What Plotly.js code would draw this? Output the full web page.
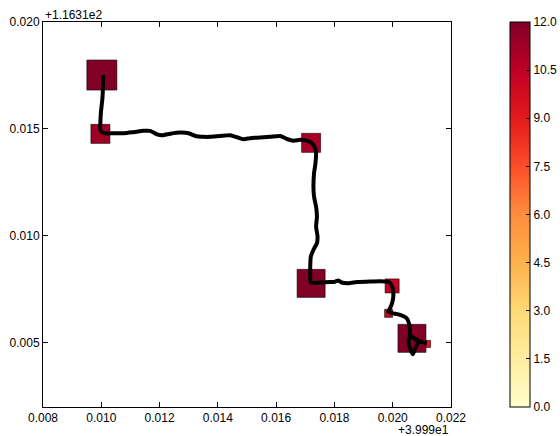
<!DOCTYPE html>
<html>
<head>
<meta charset="utf-8">
<script src="https://cdn.plot.ly/plotly-3.0.1.min.js"></script>
<style>html,body{margin:0;padding:0;background:#fff;}#chart{width:560px;height:436px;}</style>
</head>
<body>
<div id="chart"></div>
<script>
// Values are relative to the axis offsets shown on the chart
const X_OFFSET_LABEL = "+3.999e1";
const Y_OFFSET_LABEL = "+1.1631e2";

// trajectory (black line)
const pathX = [0.01006,0.01006,0.01004,0.00999,0.00997,0.00997,0.01008,0.01043,0.01077,0.01111,
  0.01145,0.01168,0.01191,0.01209,0.01237,0.01271,0.01300,0.01323,0.01351,0.01374,
  0.01408,0.01443,0.01466,0.01488,0.01511,0.01534,0.01557,0.01580,0.01614,0.01637,
  0.01660,0.01683,0.01705,0.01723,0.01734,0.01737,0.01735,0.01730,0.01728,0.01730,
  0.01737,0.01740,0.01737,0.01742,0.01740,0.01728,0.01719,0.01717,0.01717,0.01719,
  0.01751,0.01785,0.01802,0.01814,0.01825,0.01848,0.01877,0.01911,0.01957,0.01980,
  0.01991,0.02000,0.02002,0.01998,0.01991,0.01985,0.01997,0.02025,0.02048,0.02057,
  0.02059,0.02059,0.02054,0.02059,0.02069,0.02077,0.02088,0.02080,0.02065,0.02077,
  0.02100,0.02117];
const pathY = [0.01752,0.01706,0.01645,0.01581,0.01534,0.01495,0.01480,0.01480,0.01480,0.01485,
  0.01491,0.01491,0.01475,0.01471,0.01478,0.01483,0.01480,0.01467,0.01463,0.01463,
  0.01467,0.01470,0.01461,0.01452,0.01457,0.01459,0.01461,0.01463,0.01467,0.01453,
  0.01445,0.01449,0.01445,0.01433,0.01410,0.01386,0.01340,0.01293,0.01230,0.01184,
  0.01137,0.01090,0.01044,0.00997,0.00966,0.00935,0.00903,0.00857,0.00810,0.00782,
  0.00782,0.00784,0.00786,0.00791,0.00782,0.00779,0.00784,0.00786,0.00788,0.00786,
  0.00779,0.00756,0.00716,0.00686,0.00662,0.00646,0.00639,0.00631,0.00615,0.00584,
  0.00553,0.00529,0.00506,0.00475,0.00447,0.00475,0.00506,0.00514,0.00529,0.00519,
  0.00503,0.00499];

// stay points (squares)
const stayX = [0.01002,0.00997,0.01720,0.01720,0.01998,0.01986,0.02118,0.02066];
const stayY = [0.01752,0.01477,0.01435,0.00778,0.00766,0.00638,0.00495,0.00521];
const stayValue = [12.0,11.2,11.0,12.0,10.4,10.0,9.3,12.0];
const staySize = [30,19,19,28,14,8,7,28];

const colorbarTicks = [0,1.5,3,4.5,6,7.5,9,10.5,12];

const ylorrd = [[0,'#ffffcc'],[0.125,'#ffeda0'],[0.25,'#fed976'],[0.375,'#feb24c'],
  [0.5,'#fd8d3c'],[0.625,'#fc4e2a'],[0.75,'#e31a1c'],[0.875,'#bd0026'],[1,'#800026']];

const FONT = {family:'"Liberation Sans", Arial, sans-serif', size:12, color:'#000'};

const traces = [
  {
    type:'scatter', mode:'markers', x:stayX, y:stayY, hoverinfo:'skip',
    marker:{symbol:'square', size:staySize, color:stayValue, colorscale:ylorrd,
      cmin:0, cmax:12, opacity:1, line:{color:'#000', width:0.6},
      colorbar:{x:(510-43)/408, xanchor:'left', xpad:0, y:0.5, yanchor:'middle', ypad:0,
        len:1, lenmode:'fraction', thickness:20, thicknessmode:'pixels', outlinewidth:1, outlinecolor:'#000',
        tickvals:colorbarTicks, ticktext:colorbarTicks.map(v=>v.toFixed(1)),
        ticks:'inside', ticklen:4, tickcolor:'#000', tickfont:FONT}},
    showlegend:false
  },
  {
    type:'scatter', mode:'lines', x:pathX, y:pathY, hoverinfo:'skip',
    line:{color:'#000', width:4, shape:'spline', smoothing:0.6}, showlegend:false
  }
];

const axisCommon = {showgrid:false, zeroline:false, showline:true, linecolor:'#000', linewidth:1,
  mirror:'ticks', ticks:'inside', ticklen:5, tickcolor:'#000', tickfont:FONT, tickformat:'.3f'};

const layout = {
  width:560, height:436,
  margin:{l:43, r:109, t:22, b:29, pad:0, autoexpand:false},
  paper_bgcolor:'#fff', plot_bgcolor:'#fff',
  font:FONT,
  xaxis:Object.assign({range:[0.008,0.022], tick0:0.008, dtick:0.002}, axisCommon),
  yaxis:Object.assign({range:[0.002,0.020], tick0:0, dtick:0.005}, axisCommon),
  annotations:[
    {text:Y_OFFSET_LABEL, xref:'paper', yref:'paper', x:0, y:1, xanchor:'left', yanchor:'bottom',
      showarrow:false, font:FONT, yshift:-2},
    {text:X_OFFSET_LABEL, xref:'paper', yref:'paper', x:1, y:0, xanchor:'right', yanchor:'top',
      showarrow:false, font:FONT, yshift:-14}
  ]
};

Plotly.newPlot('chart', traces, layout, {staticPlot:true, displayModeBar:false});
</script>
</body>
</html>
